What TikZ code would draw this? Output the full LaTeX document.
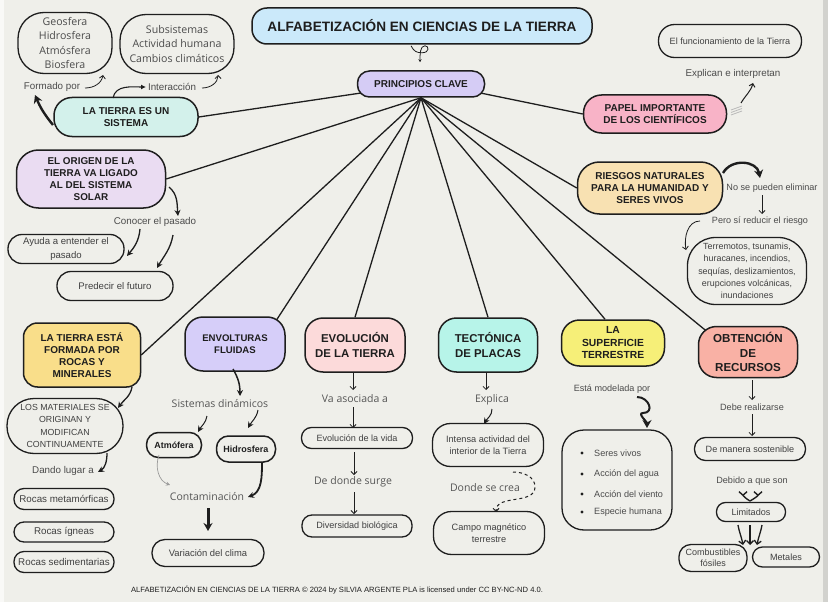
\documentclass[tikz,border=0pt]{standalone}
\usepackage{fontspec}
\setmainfont{Liberation Sans}
\newfontfamily\roundfont{Open Sans}
\usetikzlibrary{arrows.meta, calc, backgrounds}

\definecolor{paper}{HTML}{EFEFEA}
\definecolor{ink}{HTML}{1E1E1E}
\definecolor{cTitle}{HTML}{CBE9FA}
\definecolor{cClave}{HTML}{D5CCF5}
\definecolor{cSistema}{HTML}{D3F1EB}
\definecolor{cPapel}{HTML}{F8B3C7}
\definecolor{cOrigen}{HTML}{EADCF2}
\definecolor{cRiesgos}{HTML}{F8E1B2}
\definecolor{cTierra}{HTML}{F9DE8A}
\definecolor{cEnvolt}{HTML}{D6CEF9}
\definecolor{cEvol}{HTML}{FCDADA}
\definecolor{cTecto}{HTML}{B7F4E9}
\definecolor{cSuperf}{HTML}{F6EF78}
\definecolor{cObten}{HTML}{F9B1A5}

\tikzset{
  wh/.style 2 args={minimum width=#1pt, minimum height=#2pt},
  box/.style={draw=ink, line width=1.3pt, inner sep=0pt, align=center, text=ink},
  head/.style={box, line width=1.5pt, font=\bfseries\fontsize{10}{12}\selectfont},
  bighead/.style={box, line width=1.5pt, font=\bfseries\fontsize{11.4}{14.3}\selectfont},
  leaf/.style={box, font=\fontsize{9.1}{12.2}\selectfont, text=ink!85},
  note/.style={inner sep=1pt, font=\fontsize{9.1}{12}\selectfont, text=ink!80},
  bignote/.style={note, font=\fontsize{9.8}{12}\selectfont},
  softnote/.style={inner sep=1pt, font=\roundfont\fontsize{10.5}{14.2}\selectfont, text=ink!75},
  link/.style={draw=ink, line width=1.3pt},
  flow/.style={draw=ink, line width=0.8pt, -{Straight Barb[length=3pt,width=6pt]}},
  barbflow/.style={draw=ink, line width=1.3pt, -{Straight Barb[length=3.5pt,width=7pt]}},
  boldflow/.style={draw=ink, line width=1.3pt, -{Stealth[length=6pt,width=6pt]}},
  heavyflow/.style={draw=ink, line width=2.4pt, -{Stealth[length=8pt,width=9pt]}},
  feather/.style={draw=gray!55, line width=0.8pt},
}

\begin{document}
\begin{tikzpicture}[x=1pt, y=1pt]
\useasboundingbox (0,0) rectangle (828,-602);

% title and key principles
\node[box, font=\bfseries\fontsize{13.6}{16}\selectfont, line width=1.5pt, fill=cTitle,
      wh={340}{36}, rounded corners=15pt] (title) at (422,-26) {ALFABETIZACIÓN EN CIENCIAS DE LA TIERRA};
\node[head, fill=cClave, wh={127}{26}, rounded corners=12pt] (clave) at (421,-84) {PRINCIPIOS CLAVE};

% top left: the Earth as a system
\node[head, fill=cSistema, wh={144}{39}, rounded corners=18pt] (sistema) at (126,-117) {LA TIERRA ES UN\\SISTEMA};
\node[box, font=\roundfont\fontsize{10.6}{14.2}\selectfont, text=ink!80, wh={94}{61},
      rounded corners=26pt] (geos) at (65,-43) {Geosfera\\Hidrosfera\\Atmósfera\\Biosfera};
\node[box, font=\roundfont\fontsize{10.6}{14.5}\selectfont, text=ink!80, wh={114}{59},
      rounded corners=26pt] (subs) at (177,-44) {Subsistemas\\Actividad humana\\Cambios climáticos};
\node[bignote] (formado) at (52,-87) {Formado por};
\node[bignote] (interac) at (172,-87) {Interacción};

% top right: scientists
\node[head, fill=cPapel, wh={143}{38}, rounded corners=18pt] (papel) at (655,-114) {PAPEL IMPORTANTE\\DE LOS CIENTÍFICOS};
\node[leaf, wh={143}{33}, rounded corners=16pt] (funcion) at (730,-41) {El funcionamiento de la Tierra};
\node[bignote] (explican) at (733,-74) {Explican e interpretan};

% origin of the Earth
\node[head, fill=cOrigen, wh={149}{58}, rounded corners=22pt,
      font=\bfseries\fontsize{9.9}{11.8}\selectfont] (origen) at (91,-179) {EL ORIGEN DE LA\\TIERRA VA LIGADO\\AL DEL SISTEMA\\SOLAR};
\node[bignote] (conocer) at (155,-222) {Conocer el pasado};
\node[leaf, font=\fontsize{9.6}{13.3}\selectfont, wh={116}{29}, rounded corners=14pt] (ayuda) at (66,-249) {Ayuda a entender el\\pasado};
\node[leaf, font=\fontsize{9.6}{13.3}\selectfont, wh={116}{29}, rounded corners=14pt] (predecir) at (115,-286) {Predecir el futuro};

% natural hazards
\node[head, fill=cRiesgos, wh={145}{52}, rounded corners=22pt,
      font=\bfseries\fontsize{10}{11.7}\selectfont] (riesgos) at (650,-188) {RIESGOS NATURALES\\PARA LA HUMANIDAD Y\\SERES VIVOS};
\node[note] (noelim) at (772,-188) {No se pueden eliminar};
\node[note] (pero) at (760,-221) {Pero sí reducir el riesgo};
\node[leaf, font=\fontsize{8.9}{12.2}\selectfont, wh={119}{67}, rounded corners=28pt] (terremotos) at (747,-271)
      {Terremotos, tsunamis,\\huracanes, incendios,\\sequías, deslizamientos,\\erupciones volcánicas,\\inundaciones};

% rocks and minerals
\node[head, fill=cTierra, wh={117}{64}, rounded corners=14pt] (tierraesta) at (82,-355) {LA TIERRA ESTÁ\\FORMADA POR\\ROCAS Y\\MINERALES};
\node[leaf, font=\fontsize{8.8}{12.2}\selectfont, wh={116}{55}, rounded corners=27pt] (materiales) at (65,-426)
      {LOS MATERIALES SE\\ORIGINAN Y\\MODIFICAN\\CONTINUAMENTE};
\node[bignote] (dando) at (63,-471) {Dando lugar a};
\node[leaf, font=\fontsize{9.8}{12}\selectfont, wh={100}{21}, rounded corners=10pt] (metam) at (64,-499) {Rocas metamórficas};
\node[leaf, font=\fontsize{9.8}{12}\selectfont, wh={100}{20}, rounded corners=10pt] (igneas) at (64,-532) {Rocas ígneas};
\node[leaf, font=\fontsize{9.8}{12}\selectfont, wh={100}{21}, rounded corners=10pt] (sedim) at (64,-562) {Rocas sedimentarias};

% fluid envelopes
\node[head, fill=cEnvolt, wh={100}{54}, rounded corners=18pt,
      font=\bfseries\fontsize{9.6}{12.5}\selectfont] (envolt) at (235,-344) {ENVOLTURAS\\FLUIDAS};
\node[softnote] (sisdin) at (220,-404) {Sistemas dinámicos};
\node[box, line width=1.5pt, font=\bfseries\fontsize{8.9}{11}\selectfont, wh={55}{25}, rounded corners=12pt] (atmo) at (174,-445) {Atmófera};
\node[box, line width=1.5pt, font=\bfseries\fontsize{9}{11}\selectfont, wh={59}{26}, rounded corners=12pt] (hidro) at (246,-449) {Hidrosfera};
\node[softnote] (contam) at (207,-497) {Contaminación};
\node[leaf, font=\fontsize{9.4}{12}\selectfont, wh={112}{27}, rounded corners=13pt] (variac) at (208,-553) {Variación del clima};

% evolution of the Earth
\node[bighead, fill=cEvol, wh={100}{54}, rounded corners=18pt] (evol) at (355,-345) {EVOLUCIÓN\\DE LA TIERRA};
\node[softnote] (vaasoc) at (355,-399) {Va asociada a};
\node[leaf, wh={111}{21}, rounded corners=10pt] (evvida) at (357,-438) {Evolución de la vida};
\node[softnote] (dedonde) at (353,-482) {De donde surge};
\node[leaf, wh={110}{22}, rounded corners=10pt] (diversidad) at (357,-526) {Diversidad biológica};

% plate tectonics
\node[bighead, fill=cTecto, wh={99}{54}, rounded corners=18pt] (tecto) at (488,-345) {TECTÓNICA\\DE PLACAS};
\node[softnote] (explica) at (492,-400) {Explica};
\node[leaf, font=\fontsize{9.2}{12.5}\selectfont, wh={111}{43}, rounded corners=18pt] (intensa) at (488,-445) {Intensa actividad del\\interior de la Tierra};
\node[softnote] (dondecrea) at (485,-488) {Donde se crea};
\node[leaf, font=\fontsize{9.2}{12.5}\selectfont, wh={111}{43}, rounded corners=18pt] (campo) at (489,-533) {Campo magnético\\terrestre};

% Earth surface
\node[head, fill=cSuperf, wh={103}{46}, rounded corners=18pt,
      font=\bfseries\fontsize{10.3}{12.5}\selectfont] (superf) at (613,-343) {LA\\SUPERFICIE\\TERRESTRE};
\node[note] (modelada) at (612,-389) {Está modelada por};
\node[box, wh={110}{100}, rounded corners=22pt] (lista) at (617,-480) {};
\foreach \dy/\txt [count=\i] in {27/Seres vivos, 6/Acción del agua, -14/Acción del viento, -32/Especie humana} {
  \fill[ink] ($(lista)+(-35,\dy)$) circle (1.7);
  \node[note, anchor=west] (item\i) at ($(lista)+(-24,\dy)$) {\txt};
}

% resources
\node[bighead, fill=cObten, wh={99}{51}, rounded corners=18pt,
      font=\bfseries\fontsize{11.6}{14.5}\selectfont] (obten) at (748,-352) {OBTENCIÓN\\DE\\RECURSOS};
\node[note] (debe) at (752,-407) {Debe realizarse};
\node[leaf, wh={111}{23}, rounded corners=11pt] (sosten) at (750,-449) {De manera sostenible};
\node[note] (debido) at (752,-481) {Debido a que son};
\node[leaf, wh={69}{19}, rounded corners=9pt] (limit) at (751,-512) {Limitados};
\node[leaf, font=\fontsize{9}{11}\selectfont, wh={68}{27}, rounded corners=12pt] (combust) at (713,-558) {Combustibles\\fósiles};
\node[leaf, wh={67}{20}, rounded corners=10pt] (metales) at (786,-557) {Metales};

\node[font=\fontsize{7.6}{9}\selectfont, text=ink, inner sep=0pt] (credit) at (337,-590)
  {ALFABETIZACIÓN EN CIENCIAS DE LA TIERRA © 2024 by SILVIA ARGENTE PLA is licensed under CC BY-NC-ND 4.0.};

% spokes from the key principles
\begin{scope}[on background layer]
  \fill[paper] (0,0) rectangle (828,-602);
  \fill[white!60!paper] (0,0) rectangle (4,-602);
  \fill[black!12!paper] (823,0) rectangle (828,-602);
  \draw[link] ($(clave.south west)+(6,5)$) -- (sistema.east);
  \draw[link] ($(clave.south east)+(-6,5)$) -- (papel.west);
  \foreach \tgt in {origen.east, tierraesta.east, evol.north, tecto.north, riesgos.west}
    \draw[link] (clave.south) -- (\tgt);
  \draw[link] (clave.south) -- ($(envolt.north east)+(-12,-8)$);
  \draw[link] (clave.south) -- ([xshift=-8pt]superf.north);
  \draw[link] (clave.south) -- ($(obten.north west)+(12,-8)$);
\end{scope}

% title to principles
\draw[ink, line width=0.8pt, -{Stealth[length=3pt,width=3pt]}] ($(title.south)+(-11,-1)$)
  .. controls +(3,-6) and +(-5,0) .. ($(title.south)+(0,-8)$)
  .. controls +(8,0) and +(4,0) .. ($(title.south)+(3,-1)$)
  .. controls +(-5,0) and +(0,8) .. ($(clave.north)+(-1,8)$);

% system
\draw[heavyflow] ($(sistema)+(-73,-8)$) to[bend left=8] ($(formado)+(-17,-8)$);
\draw[flow] ($(formado)+(33,-1)$) to[out=0, in=-100] ($(geos)+(38,-32)$);
\draw[draw=ink, line width=1.1pt, -{Latex[length=5pt,width=5pt]}] ($(sistema)+(-13,19)$) to[out=80, in=180] ($(interac)+(-26,0)$);
\draw[flow] ($(interac)+(30,-1)$) to[out=0, in=-90] ($(subs)+(41,-31)$);

% scientists
\foreach \d in {0,2.5,5}
  \draw[feather] ($(papel)+(76,-1+\d)$) -- ++(11,4);
\draw[flow, line width=1pt] ($(papel)+(86,11)$) to[out=60, in=-105] ($(explican)+(20,-9)$);

% origin
\draw[boldflow] ($(origen)+(78,-8)$) to[out=-40, in=95] ($(conocer)+(23,6)$);
\draw[boldflow] ($(conocer)+(-15,-7)$) to[out=-95, in=50] ($(ayuda)+(61,-7)$);
\draw[boldflow] ($(conocer)+(18,-13)$) to[out=-100, in=60] ($(predecir)+(42,18)$);

% hazards
\draw[heavyflow] ($(riesgos)+(73,15)$) to[out=60, in=100, looseness=1.2] ($(noelim)+(-12,10)$);
\draw[flow] ($(noelim)+(-10,-7)$) -- ($(pero)+(2,7)$);
\draw[flow] ($(pero)+(-60,0)$) to[out=180, in=100] ($(terremotos)+(-61,21)$);

% rocks
\draw[boldflow] ($(tierraesta)+(50,-32)$) to[out=-100, in=55] ($(materiales)+(53,18)$);
\draw[boldflow] ($(materiales)+(42,-27)$) to[out=-90, in=30] ($(dando)+(35,-1)$);

% fluid envelopes
\draw[boldflow, line width=1.5pt] ($(envolt)+(-2,-25)$) to[out=-60, in=90] ($(sisdin)+(20,8)$);
\draw[boldflow, line width=1pt] ($(sisdin)+(-13,-12)$) to[out=-100, in=60] ($(atmo)+(24,13)$);
\draw[boldflow, line width=1pt] ($(sisdin)+(38,-6)$) to[out=-100, in=60] ($(hidro)+(2,21)$);
\draw[draw=gray!80, line width=0.7pt, -{Stealth[length=4pt,width=4pt]}] ($(atmo)+(-15,-10)$) to[out=-110, in=160] ($(contam)+(-37,12)$);
\draw[boldflow, line width=1.8pt] ($(hidro)+(16,-13)$) to[out=-90, in=20] ($(contam)+(41,0)$);
\draw[heavyflow, line width=3pt] ($(contam)+(1,-11)$) -- ($(variac)+(0,22)$);

% evolution
\draw[flow] ($(evol)+(-2,-27)$) -- ($(vaasoc)+(-2,9)$);
\draw[flow] ($(vaasoc)+(-2,-8)$) -- ($(evvida)+(-4,10)$);
\draw[flow] ($(evvida)+(-3,-14)$) -- ($(dedonde)+(1,7)$);
\draw[flow] ($(dedonde)+(1,-10)$) -- ($(diversidad)+(-3,12)$);

% tectonics
\draw[flow] ($(tecto)+(-2,-27)$) -- ($(explica)+(-6,10)$);
\draw[boldflow, line width=1pt] ($(explica)+(0,-9)$) to[out=-90, in=60] ($(intensa)+(-4,21)$);
\coordinate (crease) at ($(dondecrea)+(50,1)$);
\draw[flow, dashed, line width=1pt] ($(intensa)+(25,-27)$) to[out=0, in=90] (crease)
  to[out=-90, in=90] ($(campo)+(7,21)$);

% surface
\coordinate (curl) at ($(lista)+(26,67)$);
\draw[ink, line width=2pt] ($(modelada)+(25,-8)$) to[out=0, in=0, looseness=1.8] (curl);
\draw[heavyflow, line width=2pt] (curl) to[out=180, in=90] ($(lista)+(30,52)$);

% resources
\draw[flow] ($(obten)+(4,-28)$) -- ($(debe)+(0,7)$);
\draw[flow] ($(debe)+(0,-7)$) -- ($(sosten)+(2,13)$);
\draw[ink, line width=1.4pt, {Straight Barb[reversed,length=3.5pt,width=8pt]}-] ($(limit)+(-8,21)$) to[out=-90, in=150] ($(limit)+(-1,11)$);
\draw[ink, line width=1.4pt, {Straight Barb[reversed,length=3.5pt,width=8pt]}-] ($(limit)+(7,21)$) to[out=-90, in=30] ($(limit)+(-1,11)$);
\draw[barbflow] ($(limit)+(-13,-13)$) to[out=-80, in=100] ($(limit)+(-8,-33)$);
\draw[barbflow] ($(limit)+(-1,-13)$) -- ($(limit)+(-1,-33)$);
\draw[barbflow] ($(limit)+(11,-13)$) to[out=-100, in=80] ($(limit)+(6,-33)$);

\end{tikzpicture}
\end{document}
